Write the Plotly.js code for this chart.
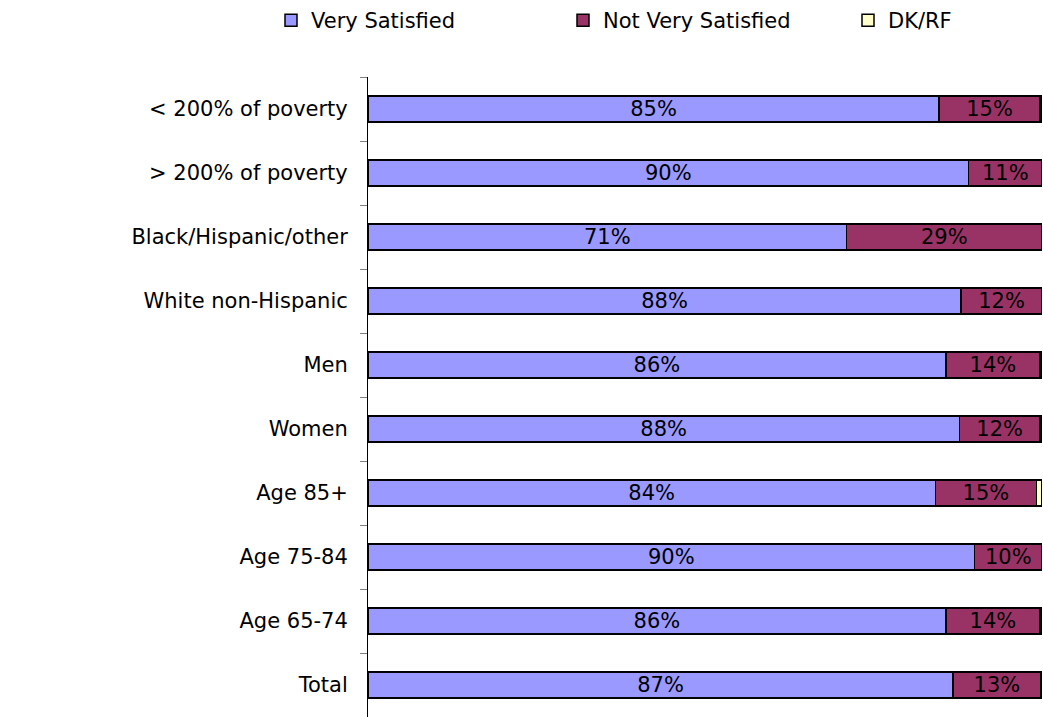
<!DOCTYPE html>
<html>
<head>
<meta charset="utf-8">
<script src="https://cdn.plot.ly/plotly-3.0.1.min.js"></script>
<style>html,body{margin:0;padding:0;background:#fff;}#chart{width:1043px;height:717px;}</style>
</head>
<body>
<div id="chart"></div>
<script>
const categories = ["< 200% of poverty", "> 200% of poverty", "Black/Hispanic/other", "White non-Hispanic", "Men", "Women", "Age 85+", "Age 75-84", "Age 65-74", "Total"];
const verySatisfied = [85, 90, 71, 88, 86, 88, 84, 90, 86, 87];
const notVerySatisfied = [15, 11, 29, 12, 14, 12, 15, 10, 14, 13];
const dkrf = [0.3, 0, 0, 0, 0.3, 0.3, 0.8, 0, 0.3, 0.2];

const FONT = "DejaVu Sans, Arial, sans-serif";
function mk(name, vals, color, showText, legendId) {
  return {
    type: 'bar', orientation: 'h', name: name, legend: legendId,
    y: categories, x: vals,
    text: showText ? vals.map(v => v + '%') : vals.map(() => ''),
    textposition: showText ? 'inside' : 'none',
    insidetextanchor: 'middle',
    constraintext: 'none',
    textfont: {family: FONT, size: 21, color: '#000'},
    marker: {color: color, line: {color: '#000', width: 1.5}},
    hoverinfo: 'x+y+name'
  };
}
const data = [
  mk('Very Satisfied', verySatisfied, '#9999FF', true, 'legend'),
  mk('Not Very Satisfied', notVerySatisfied, '#993366', true, 'legend2'),
  mk('DK/RF', dkrf, '#FFFFCC', false, 'legend3')
];
function leg(px) {
  return {orientation: 'h', xref: 'container', yref: 'container', x: px / 1043, y: 1, xanchor: 'left', yanchor: 'top',
          itemwidth: 30, font: {family: FONT, size: 21, color: '#000'}, bgcolor: 'rgba(0,0,0,0)'};
}
const layout = {
  width: 1043, height: 717,
  margin: {l: 368, r: 1, t: 77, b: 0, pad: 0},
  barmode: 'stack', barnorm: 'percent', bargap: 0.59,
  paper_bgcolor: '#fff', plot_bgcolor: '#fff',
  font: {family: FONT, size: 21, color: '#000'},
  showlegend: true,
  legend: leg(271), legend2: leg(563), legend3: leg(848),
  xaxis: {range: [0, 100], visible: false, showgrid: false, zeroline: false, fixedrange: true},
  yaxis: {type: 'category', autorange: 'reversed', showline: true, linecolor: '#000', linewidth: 1,
          ticks: 'outside', tickson: 'boundaries', ticklen: 7, tickcolor: '#808080', tickwidth: 1,
          showgrid: false, zeroline: false, ticklabelstandoff: 15,
          tickfont: {family: FONT, size: 21, color: '#000'}}
};
Plotly.newPlot('chart', data, layout, {displayModeBar: false, staticPlot: true});
</script>
</body>
</html>
